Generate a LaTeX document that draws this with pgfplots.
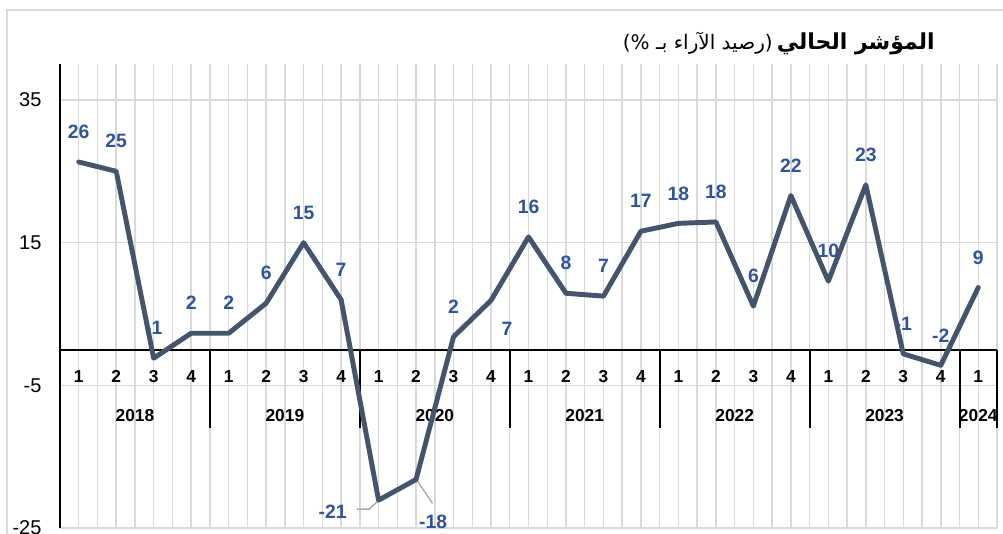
\documentclass[border=0pt]{standalone}
\usepackage{pgfplots}
\usepackage{pgfplotstable}
\pgfplotsset{compat=1.18}
\usepackage{fontspec}
\setmainfont{Liberation Sans}
\newfontfamily\arabicfont[Script=Arabic]{DejaVu Sans}
\TeXXeTstate=1
\definecolor{linec}{HTML}{44546A}
\definecolor{labc}{HTML}{2F5597}
\definecolor{gridA}{HTML}{D9D9D9}
\definecolor{leader}{HTML}{A6A6A6}

% quarterly index, 2018Q1 ... 2024Q1
\pgfplotstableread{
x y
0 26.3
1 25.0
2 -1.2
3 2.3
4 2.3
5 6.5
6 15.0
7 7.0
8 -21.1
9 -18.2
10 1.8
11 6.9
12 15.8
13 7.9
14 7.5
15 16.6
16 17.7
17 17.9
18 6.1
19 21.6
20 9.6
21 23.1
22 -0.6
23 -2.2
24 8.7
}\datatable

% labels placed above the points
\pgfplotstableread{
x y lab
0 26.3 26
1 25.0 25
2 -1.2 -1
3 2.3 2
4 2.3 2
5 6.5 6
6 15.0 15
7 7.0 7
10 1.8 2
12 15.8 16
13 7.9 8
14 7.5 7
15 16.6 17
16 17.7 18
17 17.9 18
18 6.1 6
19 21.6 22
20 9.6 10
21 23.1 23
22 -0.6 -1
23 -2.2 -2
24 8.7 9
}\labtable

\begin{document}
\begin{tikzpicture}
\useasboundingbox (0,0) rectangle (752.25pt,400.5pt);
\draw[gridA, line width=1pt] (5.25pt,-10pt) rectangle (760pt,393pt);
\node[anchor=east, inner sep=0pt] at (701.25pt,367.5pt)
  {\arabicfont\beginR{\bfseries\fontsize{16.5}{16.5}\selectfont المؤشر الحالي} {\fontsize{15}{15}\selectfont (رصيد الآراء بـ \%)}\endR};
\begin{axis}[
  at={(45pt,4.5pt)}, anchor=south west,
  width=702.75pt, height=347.8pt, scale only axis,
  xmin=-0.5, xmax=24.5, ymin=-25, ymax=40,
  ytick={-25,-5,15,35},
  xtick={0,...,24},
  xticklabels={1,2,3,4,1,2,3,4,1,2,3,4,1,2,3,4,1,2,3,4,1,2,3,4,1},
  minor xtick={-0.5,0.5,...,24.5},
  extra x ticks={1.5,5.5,9.5,13.5,17.5,21.5,24},
  extra x tick labels={2018,2019,2020,2021,2022,2023,2024},
  extra x tick style={grid=none, tick label style={yshift=-29.7pt}},
  grid=both,
  major grid style={draw=gridA, line width=1.1pt},
  minor grid style={draw=gridA, line width=1.1pt},
  axis y line*=left, axis x line*=bottom,
  x axis line style={draw=none},
  y axis line style={black, line width=1pt},
  major tick length=0pt, minor tick length=0pt,
  tick style={draw=none},
  xticklabel style={anchor=center, yshift=113.9pt, font=\fontsize{13}{13}\selectfont\bfseries},
  yticklabel style={anchor=east, inner sep=0pt, xshift=-13.7pt, font=\fontsize{15}{15}\selectfont},
  /pgf/number format/assume math mode=true,
  clip=false,
  unbounded coords=jump,
]
% zero line and year separators
\addplot[black, line width=1.5pt] coordinates {(-0.5,0) (24.5,0)};
\addplot[black, line width=1.5pt] coordinates {
  (3.5,0) (3.5,-11) (3.5,nan)
  (7.5,0) (7.5,-11) (7.5,nan)
  (11.5,0) (11.5,-11) (11.5,nan)
  (15.5,0) (15.5,-11) (15.5,nan)
  (19.5,0) (19.5,-11) (19.5,nan)
  (23.5,0) (23.5,-11) (23.5,nan)
  (24.5,0) (24.5,-11)};
% leader lines
\addplot[leader, line width=1pt] coordinates {(7.42,-22.35) (7.75,-22.35) (7.99,-21.2)};
\addplot[leader, line width=1pt] coordinates {(9.02,-18.29) (9.44,-21.56)};
% data labels
\addplot[draw=none, mark=none, nodes near coords, point meta=explicit symbolic,
  every node near coord/.append style={anchor=center, yshift=22.5pt, text=labc, font=\fontsize{14.5}{14.5}\selectfont\bfseries}]
  table[x=x, y=y, meta=lab] \labtable;
\addplot[draw=none, mark=none, nodes near coords, point meta=explicit symbolic,
  every node near coord/.append style={anchor=center, xshift=-34.5pt, yshift=-8.8pt, text=labc, font=\fontsize{14.5}{14.5}\selectfont\bfseries}]
  coordinates {(8,-21.1) [-21]};
\addplot[draw=none, mark=none, nodes near coords, point meta=explicit symbolic,
  every node near coord/.append style={anchor=center, xshift=12.75pt, yshift=-32pt, text=labc, font=\fontsize{14.5}{14.5}\selectfont\bfseries}]
  coordinates {(9,-18.2) [-18]};
\addplot[draw=none, mark=none, nodes near coords, point meta=explicit symbolic,
  every node near coord/.append style={anchor=center, xshift=12pt, yshift=-21pt, text=labc, font=\fontsize{14.5}{14.5}\selectfont\bfseries}]
  coordinates {(11,6.9) [7]};
% the series
\addplot[linec, line width=3.7pt, line join=round, line cap=round, mark=none] table[x=x, y=y] \datatable;
\end{axis}
\end{tikzpicture}
\end{document}
